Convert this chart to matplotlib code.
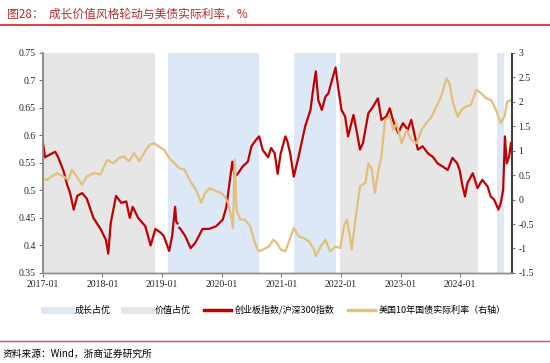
import matplotlib
matplotlib.use("Agg")
import matplotlib.pyplot as plt
import numpy as np
from matplotlib.lines import Line2D

plt.rcParams["font.family"] = ["Liberation Serif", "Noto Sans CJK SC", "DejaVu Sans"]

# 创业板指数/沪深300指数 (左轴), x = 年份小数
red_x = [2017.00, 2017.04, 2017.12, 2017.21, 2017.26, 2017.35, 2017.41, 2017.46, 2017.52, 2017.58,
         2017.66, 2017.74, 2017.85, 2017.97, 2018.06, 2018.10, 2018.14, 2018.23, 2018.32, 2018.40,
         2018.46, 2018.51, 2018.60, 2018.72, 2018.81, 2018.89, 2018.98, 2019.03, 2019.12, 2019.17,
         2019.22, 2019.24, 2019.26, 2019.27, 2019.29, 2019.31, 2019.39, 2019.48, 2019.56, 2019.68,
         2019.79, 2019.91, 2020.02, 2020.08, 2020.14, 2020.18, 2020.22, 2020.27, 2020.35, 2020.44,
         2020.50, 2020.58, 2020.63, 2020.69, 2020.78, 2020.83, 2020.89, 2020.94,
         2020.99, 2021.07, 2021.10, 2021.15, 2021.21, 2021.29, 2021.40, 2021.49, 2021.54, 2021.58,
         2021.62, 2021.68, 2021.74, 2021.79, 2021.85, 2021.91, 2021.96, 2022.01, 2022.07, 2022.12,
         2022.21, 2022.26, 2022.32, 2022.37, 2022.46, 2022.54, 2022.62, 2022.68, 2022.76, 2022.82,
         2022.87, 2022.96, 2023.04, 2023.12, 2023.18, 2023.24, 2023.29, 2023.37, 2023.46, 2023.54,
         2023.62, 2023.71, 2023.79, 2023.87, 2023.95, 2023.99, 2024.04, 2024.08, 2024.12, 2024.21,
         2024.29, 2024.37, 2024.46, 2024.51, 2024.57, 2024.64, 2024.68, 2024.72, 2024.75, 2024.78,
         2024.82, 2024.85]
red_y = [0.590, 0.560, 0.565, 0.570, 0.560, 0.535, 0.510, 0.495, 0.465, 0.490,
         0.495, 0.485, 0.450, 0.430, 0.410, 0.385, 0.440, 0.490, 0.477, 0.480,
         0.450, 0.470, 0.450, 0.435, 0.400, 0.430, 0.423, 0.417, 0.390, 0.417,
         0.470, 0.443, 0.440, np.nan, 0.432, 0.430, 0.417, 0.395, 0.405, 0.430,
         0.430, 0.435, 0.447, 0.470, 0.520, 0.552, 0.525, 0.530, 0.543, 0.552,
         0.580, 0.592, 0.598, 0.573, 0.560, 0.577, 0.567, 0.530,
         0.567, 0.598, 0.590, 0.567, 0.525, 0.561, 0.616, 0.646, 0.688, 0.716,
         0.664, 0.646, 0.670, 0.676, 0.700, 0.723, 0.682, 0.646, 0.634, 0.598,
         0.637, 0.610, 0.574, 0.586, 0.640, 0.652, 0.667, 0.628, 0.634, 0.649,
         0.628, 0.604, 0.622, 0.610, 0.628, 0.598, 0.574, 0.580, 0.567, 0.561,
         0.549, 0.543, 0.537, 0.559, 0.549, 0.537, 0.507, 0.489, 0.513, 0.531,
         0.504, 0.519, 0.507, 0.489, 0.483, 0.465, 0.477, 0.501, 0.598, 0.549,
         0.561, 0.586]

# 美国10年国债实际利率 (右轴)
gold_x = [2017.00, 2017.07, 2017.15, 2017.24, 2017.35, 2017.43, 2017.49, 2017.57, 2017.66, 2017.74,
          2017.86, 2017.97, 2018.08, 2018.19, 2018.28, 2018.36, 2018.45, 2018.53, 2018.62, 2018.70,
          2018.79, 2018.87, 2018.95, 2019.04, 2019.12, 2019.21, 2019.29, 2019.38, 2019.46, 2019.57,
          2019.66, 2019.72, 2019.80, 2019.91, 2020.00, 2020.05, 2020.11, 2020.17, 2020.19, 2020.22,
          2020.25, 2020.31, 2020.39, 2020.48, 2020.56, 2020.62, 2020.70, 2020.79, 2020.87, 2020.93,
          2020.99, 2021.07, 2021.13, 2021.21, 2021.29, 2021.38, 2021.46, 2021.55, 2021.58, 2021.66,
          2021.74, 2021.82, 2021.91, 2021.99, 2022.05, 2022.10, 2022.16, 2022.18, 2022.24, 2022.32,
          2022.41, 2022.46, 2022.52, 2022.57, 2022.63, 2022.68, 2022.74, 2022.82, 2022.88, 2022.93,
          2023.02, 2023.10, 2023.18, 2023.27, 2023.35, 2023.43, 2023.52, 2023.60, 2023.68, 2023.77,
          2023.82, 2023.88, 2023.96, 2024.02, 2024.10, 2024.18, 2024.27, 2024.35, 2024.43, 2024.52,
          2024.60, 2024.68, 2024.74, 2024.79, 2024.85]
gold_y = [0.44, 0.40, 0.47, 0.54, 0.47, 0.40, 0.61, 0.47, 0.30, 0.47,
          0.54, 0.51, 0.81, 0.74, 0.85, 0.88, 0.78, 0.95, 0.78, 0.95,
          1.12, 1.15, 1.08, 1.01, 0.85, 0.74, 0.64, 0.61, 0.40, 0.20,
          -0.07, 0.13, 0.23, 0.17, 0.13, 0.06, -0.07, -0.41, -0.58, 0.81,
          -0.21, -0.41, -0.41, -0.55, -0.89, -1.06, -1.02, -0.96, -0.82, -0.89,
          -1.02, -1.06, -0.85, -0.58, -0.75, -0.79, -0.85, -1.02, -1.16, -0.96,
          -0.82, -1.06, -0.96, -0.99, -0.55, -0.41, -0.82, -1.02, -0.45, 0.27,
          0.34, 0.74, 0.61, 0.13, 0.61, 0.88, 1.63, 1.69, 1.42, 1.56,
          1.15, 1.42, 1.22, 1.15, 1.42, 1.56, 1.69, 1.90, 2.10, 2.48,
          2.37, 1.97, 1.69, 1.83, 1.90, 1.93, 2.24, 2.17, 2.07, 2.03,
          1.83, 1.56, 1.69, 2.00, 2.03]

# 风格区间
growth_spans = [(2019.10, 2020.62), (2021.21, 2021.91), (2024.62, 2024.74)]
value_spans = [(2017.00, 2018.88), (2021.98, 2024.29)]

year_ticks = [2017, 2018, 2019, 2020, 2021, 2022, 2023, 2024]
tick_labels = [f"{y}-01" for y in year_ticks]

RED = "#C00000"
GOLD = "#E2C07C"
BLUE_BG = "#DCE8F5"
GRAY_BG = "#E6E6E6"

fig = plt.figure(figsize=(5.5, 3.63), dpi=100)
ax = fig.add_axes([0.0776, 0.248, 0.8524, 0.607])

for a, b in growth_spans:
    ax.axvspan(a, b, color=BLUE_BG, lw=0, zorder=0)
for a, b in value_spans:
    ax.axvspan(a, b, color=GRAY_BG, lw=0, zorder=0)

ax.plot(red_x, red_y, color=RED, lw=1.6, zorder=3)
ax.set_xlim(2017.0, 2024.86)
ax.set_ylim(0.35, 0.75)
ax.set_yticks(np.arange(0.35, 0.751, 0.05))
ax.set_yticklabels(["0.35", "0.4", "0.45", "0.5", "0.55", "0.6", "0.65", "0.7", "0.75"])
ax.set_xticks(year_ticks)
ax.set_xticklabels(tick_labels)

ax2 = ax.twinx()
ax2.plot(gold_x, gold_y, color=GOLD, lw=1.6, zorder=2)
ax2.set_ylim(-1.5, 3)
ax2.set_yticks(np.arange(-1.5, 3.01, 0.5))
ax2.set_yticklabels(["-1.5", "-1", "-0.5", "0", "0.5", "1", "1.5", "2", "2.5", "3"])

for a in (ax, ax2):
    a.spines["top"].set_visible(False)
    a.spines["left"].set_color("#8C8C8C")
    a.spines["left"].set_linewidth(1.2)
    a.spines["bottom"].set_color("#8C8C8C")
    a.spines["bottom"].set_linewidth(1.0)
    a.spines["right"].set_color("#404040")
    a.spines["right"].set_linewidth(0.8)
    a.tick_params(labelsize=7, length=3, width=0.6, color="#595959",
                  labelcolor="#262626", pad=2)

# 标题
fig.text(0.012, 0.962, "图28：  成长价值风格轮动与美债实际利率，%", fontsize=8.5,
         color="#B03030", family=["Noto Sans CJK SC", "DejaVu Sans"], va="center")
fig.add_artist(Line2D([0.0, 1.0], [0.931, 0.931], color="#D04848", lw=1.5))

handles = [
    Line2D([], [], color=BLUE_BG, lw=5),
    Line2D([], [], color=GRAY_BG, lw=5),
    Line2D([], [], color=RED, lw=2.5),
    Line2D([], [], color=GOLD, lw=2.5),
]
labels = ["成长占优", "价值占优", "创业板指数/沪深300指数", "美国10年国债实际利率（右轴）"]
fig.legend(handles, labels, loc="center", bbox_to_anchor=(0.5, 0.146), ncol=4, frameon=False,
           prop={"family": ["Noto Sans CJK SC", "DejaVu Sans"], "size": 6.5},
           handlelength=3, handletextpad=0.4, columnspacing=1.5)

# 底部
fig.add_artist(Line2D([0.0, 1.0], [0.061, 0.061], color="#D04848", lw=1.0))
fig.text(0.004, 0.025, "资料来源：Wind，浙商证券研究所", fontsize=7,
         family=["Noto Sans CJK SC", "DejaVu Sans"], va="center")

fig.savefig("out.png", dpi=100)
